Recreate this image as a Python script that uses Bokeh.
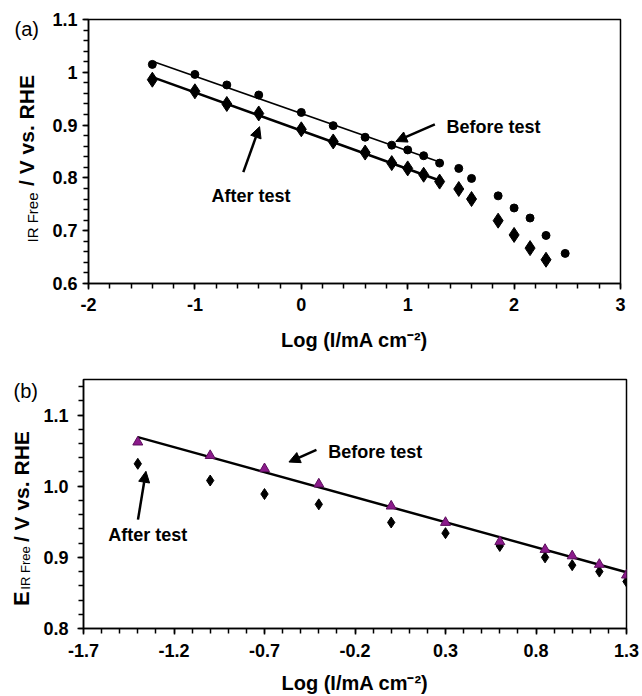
import numpy as np
from bokeh.plotting import figure
from bokeh.models import Label, Arrow, NormalHead, FixedTicker
from bokeh.layouts import column, row
from bokeh.core.properties import value
from bokeh.embed import file_html
from bokeh.resources import INLINE

# ---------------- data: panel (a) ----------------
a_x_before = [-1.4, -1.0, -0.7, -0.4, 0.0, 0.3, 0.6, 0.85, 1.0, 1.15, 1.3, 1.48, 1.6, 1.85, 2.0, 2.15, 2.3, 2.48]
a_y_before = [1.015, 0.996, 0.976, 0.957, 0.924, 0.899, 0.877, 0.862, 0.853, 0.842, 0.828, 0.818, 0.799, 0.766,
              0.743, 0.724, 0.691, 0.657]
a_x_after = [-1.4, -1.0, -0.7, -0.4, 0.0, 0.3, 0.6, 0.85, 1.0, 1.15, 1.3, 1.48, 1.6, 1.85, 2.0, 2.15, 2.3]
a_y_after = [0.986, 0.964, 0.940, 0.922, 0.892, 0.869, 0.848, 0.828, 0.818, 0.806, 0.793, 0.779, 0.760, 0.719,
             0.692, 0.667, 0.645]
a_fit_x = [-1.4, 1.3]
a_fit_before = [1.021, 0.830]
a_fit_after = [0.991, 0.795]
a_xticks = [-2, -1, 0, 1, 2, 3]
a_yticks = [0.6, 0.7, 0.8, 0.9, 1.0, 1.1]
a_ylabels = ["0.6", "0.7", "0.8", "0.9", "1", "1.1"]

# ---------------- data: panel (b) ----------------
b_x = [-1.4, -1.0, -0.7, -0.4, 0.0, 0.3, 0.6, 0.85, 1.0, 1.15, 1.3]
b_before = [1.062, 1.043, 1.0245, 1.003, 0.972, 0.949, 0.922, 0.911, 0.902, 0.890, 0.875]
b_after = [1.0315, 1.008, 0.989, 0.9745, 0.949, 0.934, 0.916, 0.900, 0.889, 0.880, 0.866]
b_fit_x = [-1.4, 1.3]
b_fit_y = [1.069, 0.879]
b_xticks = [-1.7, -1.2, -0.7, -0.2, 0.3, 0.8, 1.3]
b_yticks = [0.8, 0.9, 1.0, 1.1]
b_ylabels = ["0.8", "0.9", "1.0", "1.1"]

FONT = "Liberation Sans"
XLABEL = "Log (I/mA cm\u207b\u00b2)"


def frange(a, b, step):
    n = int(round((b - a) / step))
    return [round(a + i * step, 4) for i in range(n + 1)]


def style(p, xt, xminor, yt, yminor, ylab):
    p.xgrid.visible = False
    p.ygrid.visible = False
    p.outline_line_color = "black"
    p.outline_line_width = 1.5
    p.xaxis.ticker = FixedTicker(ticks=[float(t) for t in xt], minor_ticks=xminor)
    p.yaxis.ticker = FixedTicker(ticks=[float(t) for t in yt], minor_ticks=yminor)
    p.yaxis.major_label_overrides = {float(t): l for t, l in zip(yt, ylab)}
    p.xaxis.major_label_overrides = {float(t): ("%g" % t) for t in xt}
    p.axis.major_label_text_font_style = "bold"
    for ax in (p.xaxis[0], p.yaxis[0]):
        ax.axis_line_color = "black"
        ax.axis_line_width = 1.5
        ax.major_tick_line_color = "black"
        ax.minor_tick_line_color = "black"
        ax.major_tick_line_width = 1.5
        ax.minor_tick_line_width = 1.5
        ax.major_tick_in = 0
        ax.major_tick_out = 6
        ax.minor_tick_in = 0
        ax.minor_tick_out = 5
        ax.major_label_text_font = FONT
        ax.major_label_text_font_style = "bold"
        ax.major_label_text_font_size = "18px"
        ax.major_label_text_color = "black"
    p.xaxis.axis_label = XLABEL
    p.xaxis.axis_label_text_font = FONT
    p.xaxis.axis_label_text_font_style = "bold"
    p.xaxis.axis_label_text_font_size = "20px"
    p.xaxis.axis_label_text_color = "black"


def txt(p, x, y, s, size, align="left"):
    p.add_layout(Label(x=x, y=y, text=s, text_font=FONT, text_font_size=size,
                       text_font_style="bold", text_color="black",
                       text_align=align, text_baseline="middle"))


def arrow(p, x0, y0, x1, y1):
    p.add_layout(Arrow(end=NormalHead(size=11, fill_color="black", line_color="black"),
                       x_start=x0, y_start=y0, x_end=x1, y_end=y1,
                       line_width=2.5, line_color="black"))


def label_fig(h, top, bottom):
    # the frame of this side figure lines up with the frame of its neighbour,
    # so the y range is expressed in (negated) page pixels of that frame
    q = figure(width=40, height=h, x_range=(0, 40), y_range=(-bottom, -top),
               output_backend="svg", toolbar_location=None,
               min_border_left=0, min_border_right=0, min_border_top=0, min_border_bottom=0)
    q.axis.visible = False
    q.title.visible = False
    q.xgrid.visible = False
    q.ygrid.visible = False
    q.outline_line_color = None
    return q


def side_text(q, x, py, s, size, bold=True, angle=0.0, align="center"):
    q.text(x=[x], y=[-py], text=[s], angle=angle, text_font=value(FONT), text_font_size=size,
           text_font_style="bold" if bold else "normal", text_color="black",
           text_align=align, text_baseline="middle")


HA = 360
HB = 336

# ---------------- panel (a) ----------------
pa = figure(width=600, height=HA, x_range=(-2, 3), y_range=(0.6, 1.1),
            output_backend="svg", toolbar_location=None,
            min_border_left=48, min_border_right=20, min_border_top=19, min_border_bottom=77)
style(pa, a_xticks, frange(-2, 3, 0.2), a_yticks, frange(0.6, 1.1, 0.02), a_ylabels)
pa.xaxis.major_label_standoff = 8
pa.yaxis.major_label_standoff = 5
pa.xaxis.axis_label_standoff = 15

pa.line(a_fit_x, a_fit_before, line_color="black", line_width=1.5)
pa.line(a_fit_x, a_fit_after, line_color="black", line_width=2.5)
pa.scatter(a_x_before, a_y_before, marker="circle", size=8, fill_color="black", line_color="black")
pa.scatter(a_x_after, a_y_after, marker="diamond", size=15, fill_color="black", line_color="black")

txt(pa, 1.365, 0.896, "Before test", "18px")
arrow(pa, 1.255, 0.9015, 0.888, 0.869)
txt(pa, -0.473, 0.766, "After test", "18px", align="center")
arrow(pa, -0.545, 0.811, -0.392, 0.897)

la = label_fig(HA, 19, 283)
side_text(la, 14, 28, "(a)", "20px", bold=False, align="left")
side_text(la, 32, 217, "IR Free", "15px", bold=False, angle=np.pi / 2)
side_text(la, 26, 130, "/ V vs. RHE", "21px", angle=np.pi / 2)

# ---------------- panel (b) ----------------
pb = figure(width=600, height=HB, x_range=(-1.7, 1.3), y_range=(0.8, 1.15),
            output_backend="svg", toolbar_location=None,
            min_border_left=43, min_border_right=14, min_border_top=19, min_border_bottom=66)
style(pb, b_xticks, frange(-1.7, 1.3, 0.1), b_yticks, frange(0.8, 1.14, 0.02), b_ylabels)
pb.xaxis.major_label_standoff = 9
pb.yaxis.major_label_standoff = 9
pb.xaxis.axis_label_standoff = 12

pb.line(b_fit_x, b_fit_y, line_color="black", line_width=2.5)
pb.scatter(b_x, b_after, marker="diamond", size=11, fill_color="black", line_color="black")
pb.scatter(b_x, b_before, marker="triangle", size=10, fill_color="#8b1a8b", line_color="#5c0f5c",
           line_width=1)

txt(pb, -0.348, 1.048, "Before test", "18px")
arrow(pb, -0.413, 1.051, -0.565, 1.034)
txt(pb, -1.345, 0.931, "After test", "18px", align="center")
arrow(pb, -1.399, 0.953, -1.355, 1.021)

lb = label_fig(HB, 379, 630)
side_text(lb, 13, 391, "(b)", "20px", bold=False, align="left")
side_text(lb, 21, 600, "E", "22px", angle=np.pi / 2)
side_text(lb, 25, 569, "IR Free", "13px", bold=False, angle=np.pi / 2)
side_text(lb, 21, 487, "/ V vs. RHE", "21px", angle=np.pi / 2)

layout = column(row(la, pa, spacing=0), row(lb, pb, spacing=0), spacing=0)
open("out.html", "w").write(file_html(layout, INLINE))
